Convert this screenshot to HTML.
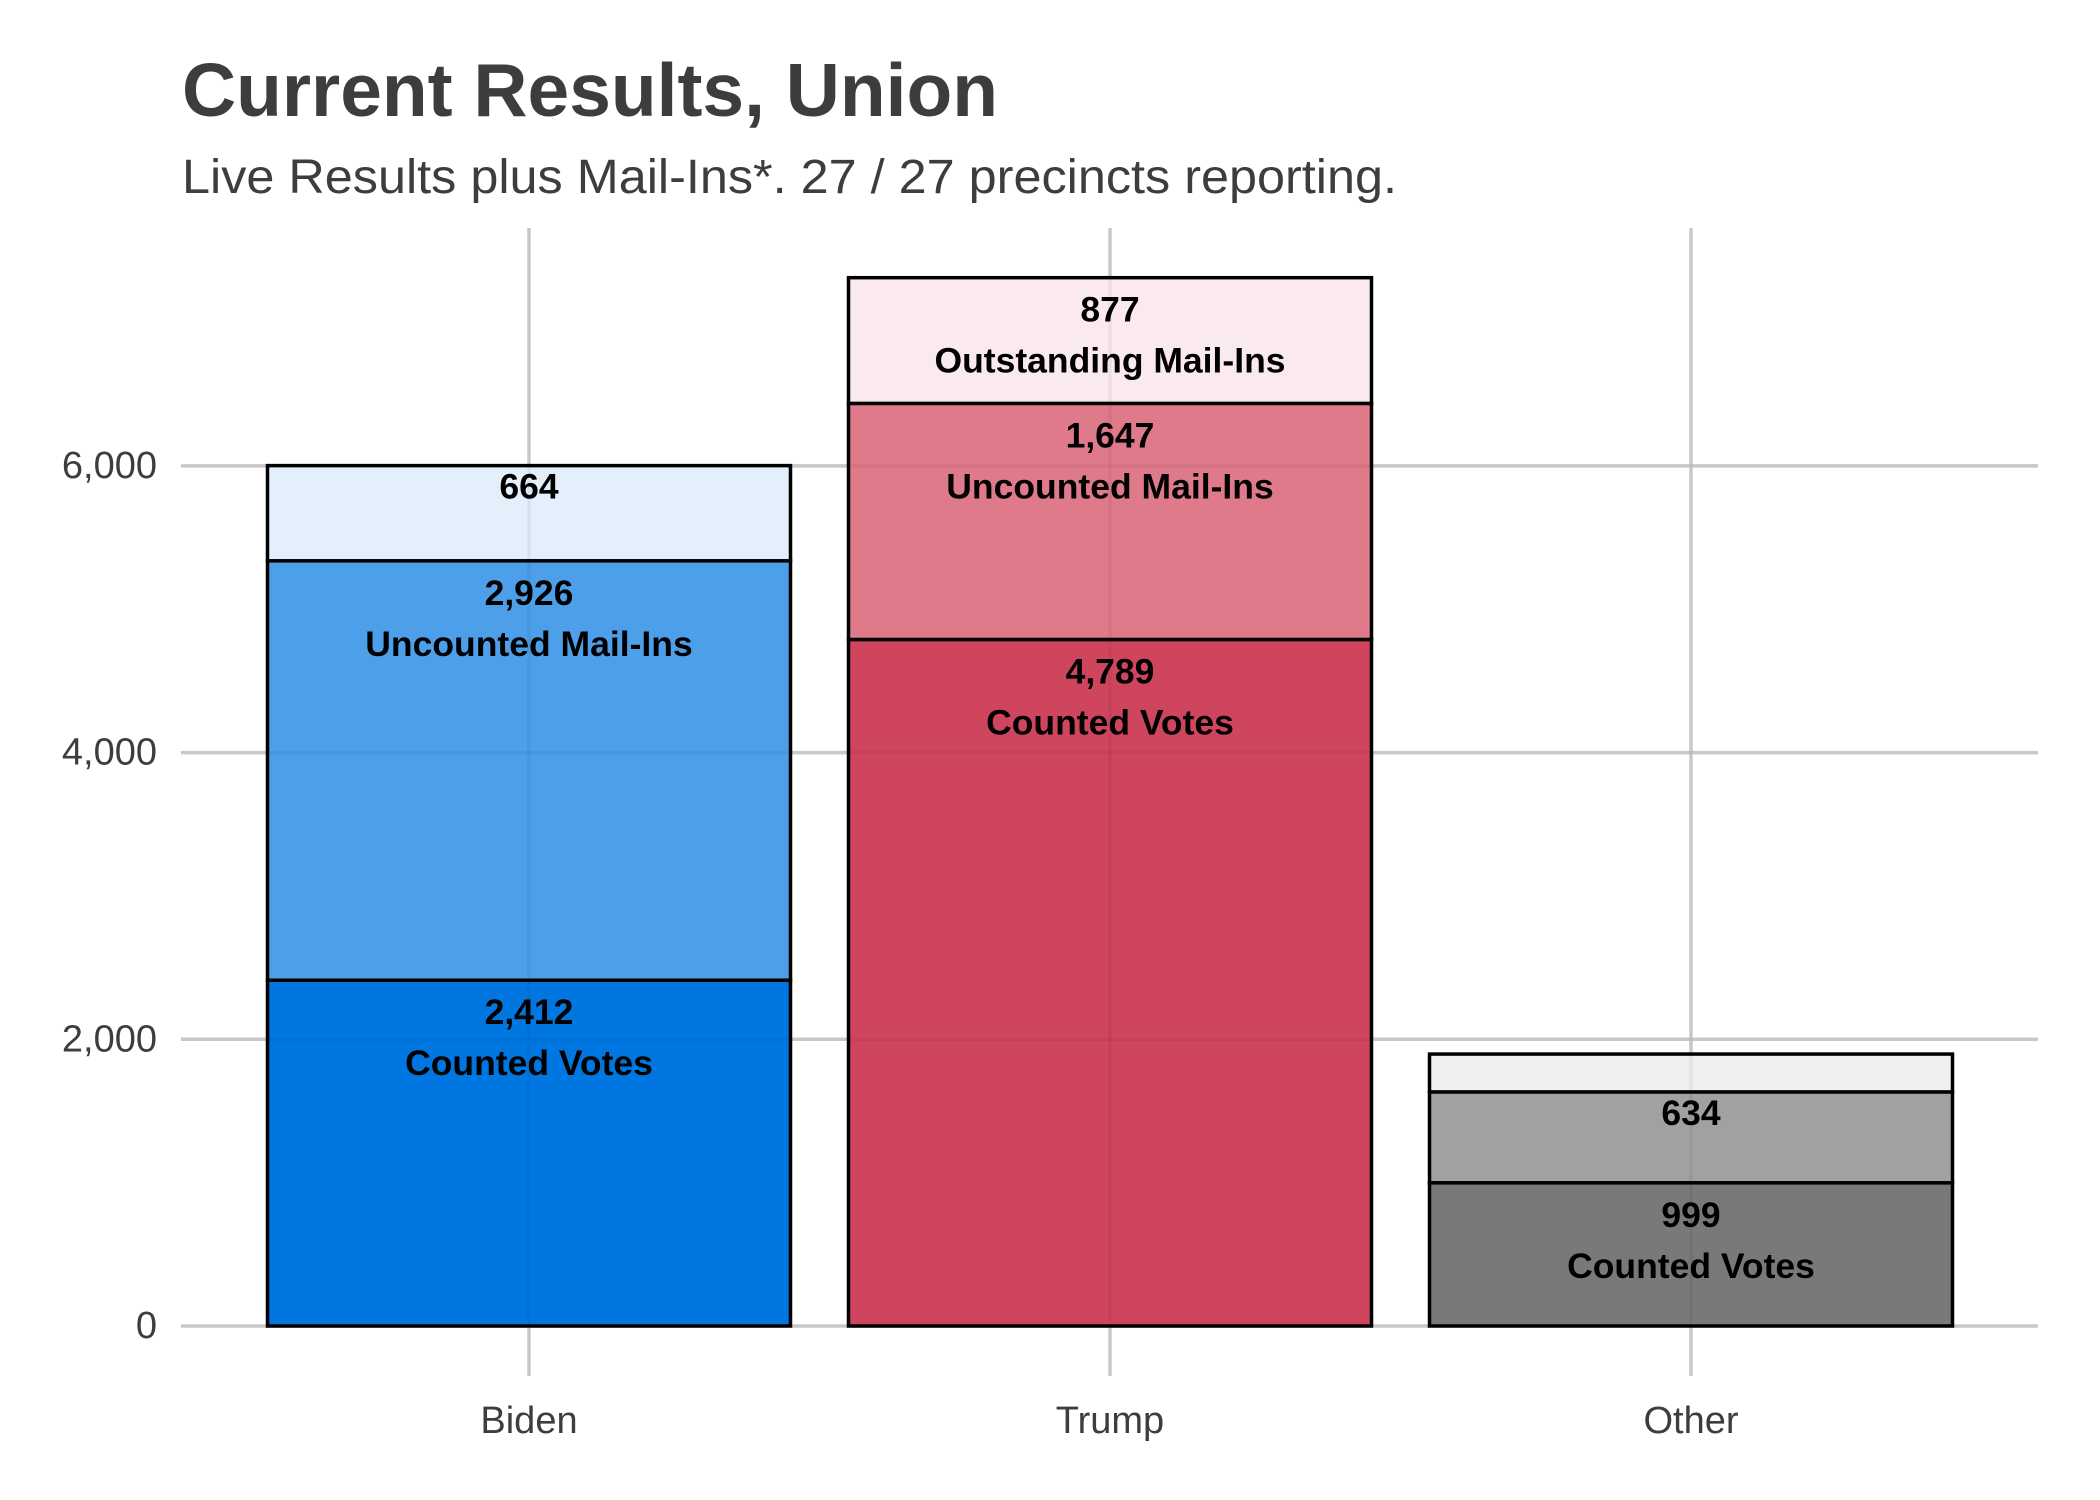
<!DOCTYPE html>
<html><head><meta charset="utf-8"><style>
html,body{margin:0;padding:0;background:#fff;}
svg{display:block;font-family:"Liberation Sans",Arial,sans-serif;}
</style></head><body>
<svg id="chart" width="2100" height="1500" viewBox="0 0 2100 1500" xmlns="http://www.w3.org/2000/svg">
<rect width="2100" height="1500" fill="#fff"/>
<text x="182" y="116" font-size="75" font-weight="bold" fill="#3d3d3d" textLength="816" lengthAdjust="spacingAndGlyphs">Current Results, Union</text>
<text x="182" y="193" font-size="48" fill="#3d3d3d" textLength="1215" lengthAdjust="spacingAndGlyphs">Live Results plus Mail-Ins*. 27 / 27 precincts reporting.</text>
<g id="grid"></g>
<g id="bars"></g>
<g id="overlay"></g>
<g id="labels"></g>
<g id="axes"></g>
</svg>
<script>
const categories = ["Biden", "Trump", "Other"];
const counted = [2412, 4789, 999];
const uncounted = [2926, 1647, 634];
const outstanding = [664, 877, 264];
const countedLabels = ["2,412", "4,789", "999"];
const uncountedLabels = ["2,926", "1,647", "634"];
const outstandingLabels = ["664", "877", ""];
const yTicks = [0, 2000, 4000, 6000];
const yTickLabels = ["0", "2,000", "4,000", "6,000"];
const colors = [
  ["#0076e0", "#4c9fe8", "#e3effb"],
  ["#d0455e", "#df7a8b", "#faeaee"],
  ["#797979", "#a1a1a1", "#f0f0f0"]
];
const NS = "http://www.w3.org/2000/svg";
const y0 = 1326, pxPer = 286.7 / 2000;
const yS = v => y0 - v * pxPer;
const xL = 181, xR = 2038, first = 529, step = 581, bw = 523;
const xS = i => first + i * step;
function mk(tag, attrs, parent) {
  const e = document.createElementNS(NS, tag);
  for (const k in attrs) e.setAttribute(k, attrs[k]);
  parent.appendChild(e);
  return e;
}
const grid = document.getElementById("grid"), bars = document.getElementById("bars"),
  overlay = document.getElementById("overlay"), labels = document.getElementById("labels"),
  axes = document.getElementById("axes");
yTicks.forEach((t, i) => {
  const l = mk("line", {x1: xL, x2: xR, y1: yS(t), y2: yS(t), stroke: "#d3d3d3", "stroke-width": 3.5}, grid);
  
  
  const o = mk("line", {x1: xL, x2: xR, y1: yS(t), y2: yS(t), stroke: "#000", "stroke-opacity": 0.05, "stroke-width": 3.5}, overlay);
  
  
  const tx = mk("text", {x: 157, y: yS(t), "font-size": 38, fill: "#3d3d3d", "text-anchor": "end", "dominant-baseline": "central"}, axes);
  tx.textContent = yTickLabels[i];
  
  
});
categories.forEach((c, i) => {
  const g = mk("line", {x1: xS(i), x2: xS(i), y1: 228, y2: 1376, stroke: "#d3d3d3", "stroke-width": 3.5}, grid);
  
  
  const o = mk("line", {x1: xS(i), x2: xS(i), y1: 228, y2: 1376, stroke: "#000", "stroke-opacity": 0.05, "stroke-width": 3.5}, overlay);
  
  
  const tx = mk("text", {x: xS(i), y: 1433, "font-size": 38, fill: "#3d3d3d", "text-anchor": "middle"}, axes);
  tx.textContent = c;
  
  
  const segs = [counted[i], uncounted[i], outstanding[i]];
  const segLabels = [[countedLabels[i], "Counted Votes"], [uncountedLabels[i], i === 2 ? "" : "Uncounted Mail-Ins"], [outstandingLabels[i], i === 0 ? "" : "Outstanding Mail-Ins"]];
  const segNames = ["counted", "uncounted", "outstanding"];
  let cum = 0;
  segs.forEach((v, j) => {
    const top = yS(cum + v), bot = yS(cum);
    const r = mk("rect", {x: xS(i) - bw / 2, y: top, width: bw, height: bot - top, fill: colors[i][j], stroke: "#000", "stroke-width": 3.5}, bars);
    
    
    const [num, name] = segLabels[j];
    if (num) {
      const two = name !== "";
      const t1 = mk("text", {x: xS(i), y: top + (two ? 44 : 33), "font-size": 35.5, "font-weight": "bold", fill: "#000", "text-anchor": "middle"}, labels);
      t1.textContent = num;
      
      
      if (two) {
        const t2 = mk("text", {x: xS(i), y: top + 95, "font-size": 35.5, "font-weight": "bold", fill: "#000", "text-anchor": "middle"}, labels);
        t2.textContent = name;
        
        
      }
    }
    cum += v;
  });
});
</script>
</body></html>
